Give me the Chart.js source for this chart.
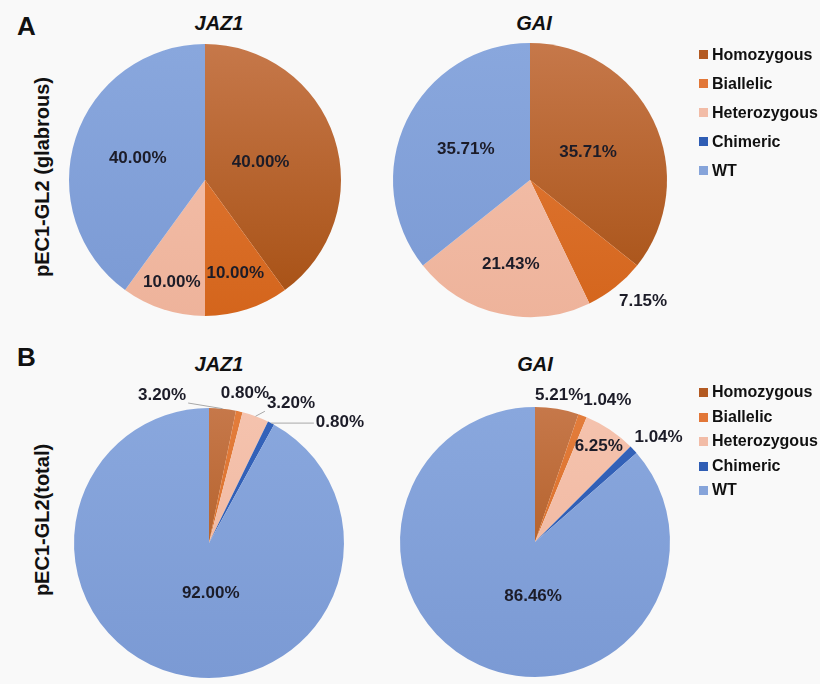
<!DOCTYPE html>
<html>
<head>
<meta charset="utf-8">
<title>Genotype pies</title>
<script src="https://cdn.jsdelivr.net/npm/chart.js@4.4.0/dist/chart.umd.min.js"></script>
<style>
  body {
    margin: 0;
    width: 820px;
    height: 684px;
    overflow: hidden;
    position: relative;
    background: #f9f9f9;
    font-family: "Liberation Sans", Arial, sans-serif;
    color: #111;
  }
  .t { position: absolute; transform: translate(-50%, -50%); white-space: nowrap; font-weight: bold; }
  .letter { font-size: 26px; transform: none; }
  .title { font-size: 20px; font-style: italic; }
  .ytitle { font-size: 20px; transform: translate(-50%, -50%) rotate(-90deg); }
  .pie { position: absolute; }
  .legend { position: absolute; left: 699px; font-weight: bold; font-size: 16px; white-space: nowrap; }
  .legend div { position: relative; padding-left: 13px; }
  .legend span { position: absolute; left: 0; width: 9px; height: 9px; }
  #legendA div { height: 29px; line-height: 29px; }
  #legendA span { top: 10px; }
  #legendB div { height: 24.5px; line-height: 24.5px; }
  #legendB span { top: 8px; }
</style>
</head>
<body>

<div class="t letter" style="left:17px; top:11px;">A</div>
<div class="t letter" style="left:17px; top:342px;">B</div>
<div class="t title" style="left:219px; top:23px;">JAZ1</div>
<div class="t title" style="left:534px; top:23px;">GAI</div>
<div class="t title" style="left:219px; top:364px;">JAZ1</div>
<div class="t title" style="left:535px; top:364px;">GAI</div>
<div class="t ytitle" style="left:42px; top:177px;">pEC1-GL2 (glabrous)</div>
<div class="t ytitle" style="left:42px; top:520px;">pEC1-GL2(total)</div>

<div class="pie" id="wrapA1"><canvas id="pieA1"></canvas></div>
<div class="pie" id="wrapA2"><canvas id="pieA2"></canvas></div>
<div class="pie" id="wrapB1"><canvas id="pieB1"></canvas></div>
<div class="pie" id="wrapB2"><canvas id="pieB2"></canvas></div>

<div class="legend" id="legendA" style="top:40px;"></div>
<div class="legend" id="legendB" style="top:380px;"></div>

<script>
// genotype categories, same order in every pie
var categories = ['Homozygous', 'Biallelic', 'Heterozygous', 'Chimeric', 'WT'];

// percentages
var jaz1Glabrous = [40.00, 10.00, 10.00, 0, 40.00];
var gaiGlabrous = [35.71, 7.15, 21.43, 0, 35.71];
var jaz1Total = [3.20, 0.80, 3.20, 0.80, 92.00];
var gaiTotal = [5.21, 1.04, 6.25, 1.04, 86.46];

// excel-ish fills, light at the top and darker at the bottom
var colorsTop = ['#c6784a', '#e37d3c', '#f5c3ae', '#3463ba', '#89a7dd'];
var colorsBottom = ['#a64f12', '#d4651c', '#eeb39b', '#2b58ae', '#7b9ad4'];
var legendColors = ['#b35a22', '#e27738', '#f2bca7', '#2f5db4', '#86a4da'];

var labelFont = 'bold 17px "Liberation Sans", Arial, sans-serif';

// where each percentage goes: r = fraction of radius, a = angle (deg clockwise from top) if not slice middle
var placeA1 = [{r: 0.43}, {r: 0.72}, {r: 0.79}, null, {r: 0.52}];
var placeA2 = [{r: 0.47}, {r: 1.21, a: 137}, {r: 0.63}, null, {r: 0.52}];
var placeB1 = [{r: 1.15, a: 342.4, line: true}, {r: 1.14, a: 13.5}, {r: 1.2, a: 30.4, line: true},
               {r: 1.32, a: 47.3, line: true}, {r: 0.37, a: 178}];
var placeB2 = [{r: 1.10}, {r: 1.18, a: 27}, {r: 0.85}, {r: 1.2, a: 49.7}, {r: 0.4, a: 182}];


// Draws the percentage text on or around each slice
var sliceLabels = {
    id: 'sliceLabels',
    afterDatasetsDraw: function(chart, args, opts) {
        var ctx = chart.ctx;
        var values = chart.data.datasets[0].data;
        var meta = chart.getDatasetMeta(0);
        ctx.save();
        ctx.font = labelFont;
        ctx.textAlign = 'center';
        ctx.textBaseline = 'middle';
        meta.data.forEach(function(arc, i) {
            var p = opts.place[i];
            if (!p || !values[i]) return;
            var props = arc.getProps(['x', 'y', 'startAngle', 'endAngle', 'outerRadius'], true);
            var mid = (props.startAngle + props.endAngle) / 2;
            var ang = (p.a != null) ? p.a * Math.PI / 180 - Math.PI / 2 : mid;
            var lx = props.x + Math.cos(ang) * props.outerRadius * p.r;
            var ly = props.y + Math.sin(ang) * props.outerRadius * p.r;
            var text = values[i].toFixed(2) + '%';

            if (p.line) {
                // leader from the slice rim to the closest side of the text box
                var ex = props.x + Math.cos(mid) * props.outerRadius;
                var ey = props.y + Math.sin(mid) * props.outerRadius;
                var hw = ctx.measureText(text).width / 2 + 2;
                var bx = Math.min(Math.max(ex, lx - hw), lx + hw);
                var by = Math.min(Math.max(ey, ly - 8), ly + 8);
                ctx.beginPath();
                ctx.strokeStyle = '#a8a8a8';
                ctx.lineWidth = 1;
                ctx.moveTo(ex, ey);
                ctx.lineTo(bx, by);
                ctx.stroke();
            }
            ctx.fillStyle = '#1c1c28';
            ctx.fillText(text, lx, ly);
        });
        ctx.restore();
    }
};


function sliceFill(context) {
    var chart = context.chart;
    var area = chart.chartArea;
    var i = context.dataIndex;
    if (!area) return colorsTop[i];
    var g = chart.ctx.createLinearGradient(0, area.top, 0, area.bottom);
    g.addColorStop(0, colorsTop[i]);
    g.addColorStop(1, colorsBottom[i]);
    return g;
}


function makePie(id, wrapId, values, place, cx, cy, radius) {
    var w = 400, h = 380;
    var wrap = document.getElementById(wrapId);
    wrap.style.left = (cx - w / 2) + 'px';
    wrap.style.top = (cy - h / 2) + 'px';
    var canvas = document.getElementById(id);
    canvas.width = w;
    canvas.height = h;
    var padX = w / 2 - radius;
    var padY = h / 2 - radius;

    return new Chart(canvas.getContext('2d'), {
        type: 'pie',
        data: {
            labels: categories,
            datasets: [{
                data: values,
                backgroundColor: sliceFill,
                borderWidth: 0
            }]
        },
        options: {
            responsive: false,
            animation: false,
            devicePixelRatio: 1,
            layout: { padding: { left: padX, right: padX, top: padY, bottom: padY } },
            plugins: {
                legend: { display: false },
                tooltip: { enabled: false },
                sliceLabels: { place: place }
            }
        },
        plugins: [sliceLabels]
    });
}

makePie('pieA1', 'wrapA1', jaz1Glabrous, placeA1, 205, 180, 136);
makePie('pieA2', 'wrapA2', gaiGlabrous, placeA2, 530, 180, 137);
makePie('pieB1', 'wrapB1', jaz1Total, placeB1, 209, 543, 135);
makePie('pieB2', 'wrapB2', gaiTotal, placeB2, 535, 542, 135);


// legends (html, one per row of pies)
function buildLegend(elId) {
    var el = document.getElementById(elId);
    categories.forEach(function(name, i) {
        var row = document.createElement('div');
        var sw = document.createElement('span');
        sw.style.background = legendColors[i];
        row.appendChild(sw);
        row.appendChild(document.createTextNode(name));
        el.appendChild(row);
    });
}
buildLegend('legendA');
buildLegend('legendB');
</script>
</body>
</html>
